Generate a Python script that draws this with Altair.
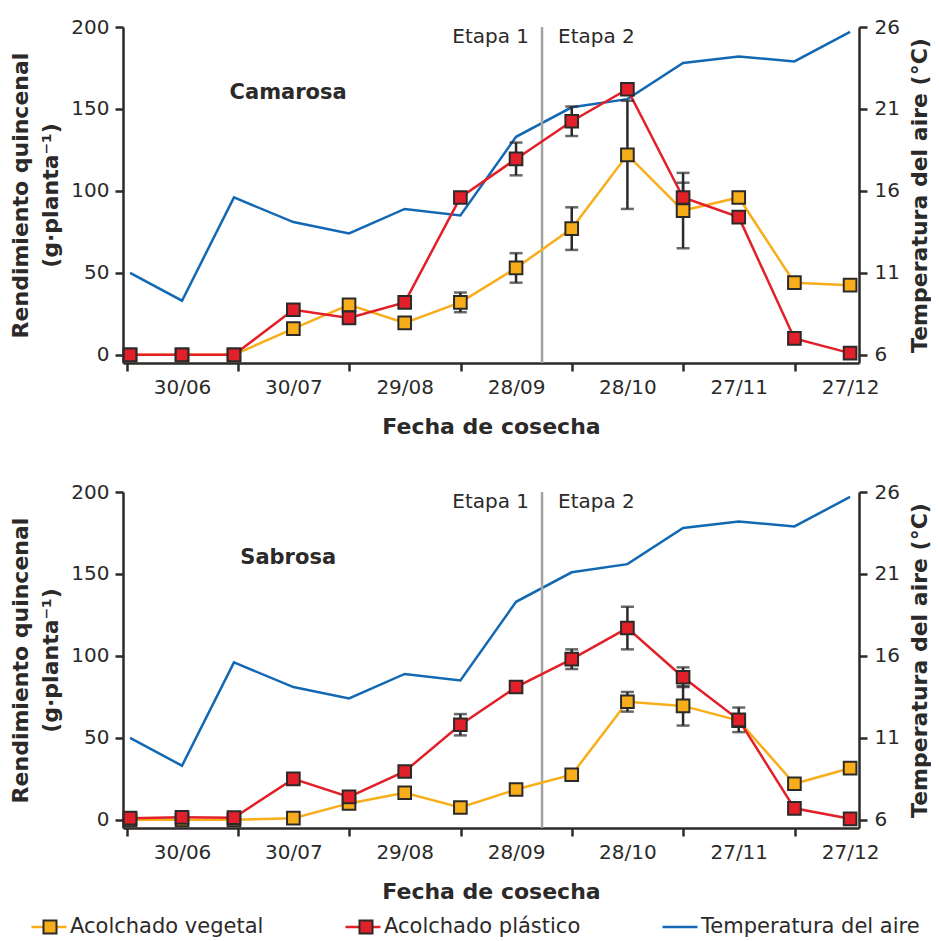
import altair as alt
import pandas as pd

# ---------------- data ----------------
fechas = ["16/06", "30/06", "14/07", "30/07", "14/08", "29/08", "13/09",
          "28/09", "13/10", "28/10", "12/11", "27/11", "12/12", "27/12"]
etiquetas_x = ["30/06", "30/07", "29/08", "28/09", "28/10", "27/11", "27/12"]
cambio_etapa = "05/10"

temperatura = [11.0, 9.3, 15.6, 14.1, 13.4, 14.9, 14.5, 19.3, 21.1, 21.6, 23.8, 24.2, 23.9, 25.7]

cam_vegetal = [0, 0, 0, 16, 30.5, 19.5, 32, 53, 77, 122, 88, 96, 44, 42.5]
cam_vegetal_err = [0, 0, 0, 0, 0, 0, 6, 9, 13, 33, 23, 0, 0, 0]
cam_plastico = [0, 0, 0, 27.5, 22.5, 32, 96, 119.5, 142.5, 162, 96, 84, 10, 1]
cam_plastico_err = [0, 0, 0, 0, 0, 0, 0, 10, 9, 0, 9, 0, 0, 0]

sab_vegetal = [0, 0, 0, 1, 10, 16.5, 7.5, 18.5, 27.5, 72, 69.5, 60.5, 22, 31.5]
sab_vegetal_err = [0, 0, 0, 0, 0, 0, 0, 0, 0, 6, 12, 0, 0, 0]
sab_plastico = [1, 1.5, 1.3, 25, 14, 29.5, 58, 81, 98, 117, 87, 61, 7, 0.6]
sab_plastico_err = [0, 0, 0, 0, 0, 0, 6.5, 0, 6, 13, 6, 7.5, 0, 0]

S_VEG = "Acolchado vegetal"
S_PLA = "Acolchado plástico"
S_TEMP = "Temperatura del aire"
series = [S_VEG, S_PLA, S_TEMP]
colores = ["#F8AE1A", "#E2202A", "#1368B3"]
OSCURO = "#2B2A29"
FONT = "DejaVu Sans"


def doy(f):
    return int(pd.to_datetime(f + "/2010", format="%d/%m/%Y").dayofyear)


dias = [doy(f) for f in fechas]
dias_etiq = [doy(f) for f in etiquetas_x]
dia_etapa = doy(cambio_etapa)

W, H = 736, 336
x_domain = [165.1, 363.4]

x_axis = alt.Axis(values=dias_etiq, labelExpr="utcFormat(utc(2010, 0, datum.value), '%d/%m')",
                  title="Fecha de cosecha", tickOffset=-55.5, labelOffset=55.5,
                  labelFlush=False, labelOverlap=False, grid=False,
                  titlePadding=19, labelPadding=6)
X = alt.X("dia:Q", scale=alt.Scale(domain=x_domain, nice=False, zero=False), axis=x_axis)

yl_axis = alt.Axis(values=[0, 50, 100, 150, 200], orient="left", grid=False,
                   title=["Rendimiento quincenal", "(g·planta⁻¹)"], titleLineHeight=30,
                   titlePadding=8, labelPadding=6)
yl_scale = alt.Scale(domain=[-5, 200], nice=False, zero=False)

yr_axis = alt.Axis(values=[6, 11, 16, 21, 26], orient="right", grid=False,
                   title="Temperatura del aire (°C)", titleAngle=270, titleBaseline="top",
                   titlePadding=10, labelPadding=7)
yr_scale = alt.Scale(domain=[5.5, 26], nice=False, zero=False)


def panel(nombre, veg, veg_err, pla, pla_err, leyenda):
    rows = []
    for s, vals, errs in [(S_VEG, veg, veg_err), (S_PLA, pla, pla_err)]:
        for f, d, v, e in zip(fechas, dias, vals, errs):
            rows.append(dict(fecha=f, dia=d, serie=s, valor=v, err=e, lo=v - e, hi=v + e))
    df = pd.DataFrame(rows)
    df_t = pd.DataFrame(dict(dia=dias, temp=temperatura, serie=S_TEMP))

    if leyenda:
        lx, ly = -93, 416
        leg_color = alt.Legend(orient="none", legendX=lx, legendY=ly, direction="horizontal",
                               columns=3, title=None, symbolType="stroke", symbolSize=1225,
                               symbolStrokeWidth=2.5, labelFontSize=21, labelFont=FONT,
                               labelColor=OSCURO, labelOffset=2, columnPadding=76,
                               labelLimit=400)
        leg_fill = alt.Legend(orient="none", legendX=lx + 9.5, legendY=ly + 8.5,
                              direction="horizontal", columns=3, title=None,
                              symbolType="square", symbolSize=169, symbolStrokeColor=OSCURO,
                              symbolStrokeWidth=2, labelFontSize=21, labelFont=FONT,
                              labelExpr="''", labelOffset=0, columnPadding=295)
    else:
        leg_color = None
        leg_fill = None

    C = alt.Color("serie:N", scale=alt.Scale(domain=series, range=colores), legend=leg_color)
    F = alt.Fill("serie:N", scale=alt.Scale(domain=[S_VEG, S_PLA], range=colores[:2]),
                 legend=leg_fill)

    temp_line = alt.Chart(df_t).mark_line(strokeWidth=2.5).encode(
        x=X, y=alt.Y("temp:Q", scale=yr_scale, axis=yr_axis), color=C)

    base = alt.Chart(df)
    div = alt.Chart(pd.DataFrame(dict(dia=[dia_etapa]))).mark_rule(
        color="#A3A3A3", strokeWidth=2.5).encode(x=X)

    line_veg = base.transform_filter(alt.datum.serie == S_VEG).mark_line(strokeWidth=2.5).encode(
        x=X, y=alt.Y("valor:Q", scale=yl_scale, axis=yl_axis), color=C)
    line_pla = base.transform_filter(alt.datum.serie == S_PLA).mark_line(strokeWidth=2.5).encode(
        x=X, y=alt.Y("valor:Q", scale=yl_scale, axis=yl_axis), color=C)

    eb = base.transform_filter("datum.err > 0")
    err_rule = eb.mark_rule(color=OSCURO, strokeWidth=2.5).encode(
        x=X, y=alt.Y("lo:Q", scale=yl_scale, axis=yl_axis), y2="hi:Q")
    cap_lo = eb.mark_tick(color=OSCURO, orient="horizontal", size=13, thickness=2.5).encode(
        x=X, y=alt.Y("lo:Q", scale=yl_scale, axis=yl_axis))
    cap_hi = eb.mark_tick(color=OSCURO, orient="horizontal", size=13, thickness=2.5).encode(
        x=X, y=alt.Y("hi:Q", scale=yl_scale, axis=yl_axis))

    pts_veg = base.transform_filter(alt.datum.serie == S_VEG).mark_square(
        size=160, opacity=1, stroke=OSCURO, strokeWidth=2).encode(
        x=X, y=alt.Y("valor:Q", scale=yl_scale, axis=yl_axis), fill=F)
    pts_pla = base.transform_filter(alt.datum.serie == S_PLA).mark_square(
        size=160, opacity=1, stroke=OSCURO, strokeWidth=2).encode(
        x=X, y=alt.Y("valor:Q", scale=yl_scale, axis=yl_axis), fill=F)

    etapas = pd.DataFrame(dict(dia=[dia_etapa, dia_etapa], yv=[194, 194],
                               txt=["Etapa 1", "Etapa 2"]))
    t_e1 = alt.Chart(etapas.iloc[[0]]).mark_text(
        align="right", dx=-13, font=FONT, fontSize=20, color=OSCURO).encode(
        x=X, y=alt.Y("yv:Q", scale=yl_scale, axis=yl_axis), text="txt:N")
    t_e2 = alt.Chart(etapas.iloc[[1]]).mark_text(
        align="left", dx=16, font=FONT, fontSize=20, color=OSCURO).encode(
        x=X, y=alt.Y("yv:Q", scale=yl_scale, axis=yl_axis), text="txt:N")
    t_nom = alt.Chart(pd.DataFrame(dict(dia=[209.6], yv=[160], txt=[nombre]))).mark_text(
        align="center", font=FONT, fontSize=21, fontWeight="bold", color=OSCURO).encode(
        x=X, y=alt.Y("yv:Q", scale=yl_scale, axis=yl_axis), text="txt:N")

    left = alt.layer(div, line_veg, line_pla, err_rule, cap_lo, cap_hi, pts_veg, pts_pla,
                     t_e1, t_e2, t_nom)
    return alt.layer(temp_line, left).resolve_scale(y="independent").properties(
        width=W, height=H)


top = panel("Camarosa", cam_vegetal, cam_vegetal_err, cam_plastico, cam_plastico_err, False)
bot = panel("Sabrosa", sab_vegetal, sab_vegetal_err, sab_plastico, sab_plastico_err, True)

chart = alt.vconcat(top, bot, spacing=45).resolve_scale(
    color="independent", fill="independent").properties(
    padding={"left": 1, "top": 9, "right": 0, "bottom": 0}
).configure_view(stroke=None).configure_axis(
    domainColor=OSCURO, domainWidth=2.5, tickColor=OSCURO, tickWidth=2.5, tickSize=8,
    labelFont=FONT, labelFontSize=20, labelColor=OSCURO,
    titleFont=FONT, titleFontSize=22, titleFontWeight="bold", titleColor=OSCURO
)

chart.save("out.html", embed_options={"renderer": "svg", "actions": False})
